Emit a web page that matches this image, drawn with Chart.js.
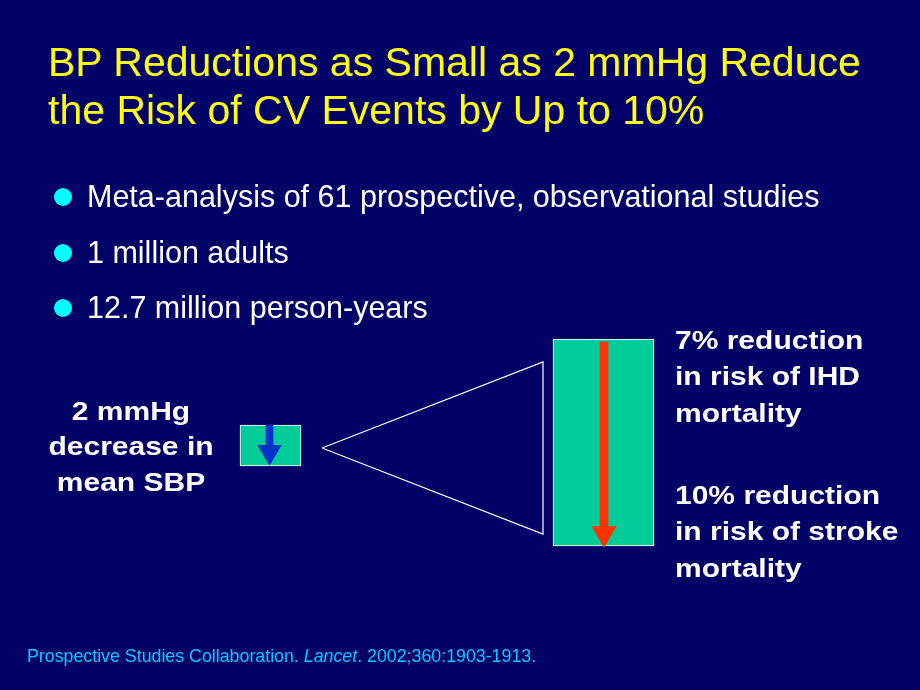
<!DOCTYPE html>
<html>
<head>
<meta charset="utf-8">
<script src="https://cdn.jsdelivr.net/npm/chart.js@4"></script>
<style>
  html, body { margin: 0; padding: 0; }
  body { width: 920px; height: 690px; background: #000066; position: relative; overflow: hidden;
         font-family: "Liberation Sans", Arial, Helvetica, sans-serif; }
  #slide { position: absolute; left: 0; top: 0; }
  .t { position: absolute; white-space: nowrap; line-height: 1; }
  .dot { position: absolute; width: 18px; height: 18px; border-radius: 50%; background: #00FFFF; }
</style>
</head>
<body>
<canvas id="slide" width="920" height="690"></canvas>
<script>
// slide content
const titleLines = ['BP Reductions as Small as 2 mmHg Reduce', 'the Risk of CV Events by Up to 10%'];
const bullets = ['Meta-analysis of 61 prospective, observational studies', '1 million adults', '12.7 million person-years'];
const sbpDecrease = 2;            // mmHg
const outcomes = ['IHD', 'stroke'];
const riskReduction = [7, 10];    // %

// layout of the diagram (slide pixels)
const smallBox = { x: 270.5, top: 425, bottom: 466, width: 61 };
const bigBox = { x: 603.5, top: 339, bottom: 546, width: 101 };
const smallShaft = { x: 269.5, top: 425, bottom: 447, width: 7 };
const bigShaft = { x: 604, top: 342, bottom: 527, width: 8 };
const zoomLines = [{ x: 322, y: 448 }, { x: 543, y: 362 }, { x: 543, y: 534 }, { x: 322, y: 448 }];

const TEAL = '#00CC99';
const BLUE = '#0033CC';
const RED = '#FF3300';

// text helper: put a line so its baseline sits at y
function place(html, x, baseline, size, style) {
    const d = document.createElement('div');
    d.className = 't';
    d.innerHTML = html;
    d.style.fontSize = size + 'px';
    d.style.top = (baseline - 0.8465 * size) + 'px';
    if (style.center) {
        d.style.left = (x - 150) + 'px';
        d.style.width = '300px';
        d.style.textAlign = 'center';
    } else {
        d.style.left = x + 'px';
    }
    d.style.color = style.color || '#FFFFFF';
    if (style.bold) d.style.fontWeight = 'bold';
    if (style.squash) {
        d.style.transformOrigin = '50% ' + (0.8465 * size) + 'px';
        d.style.transform = 'scaleY(' + style.squash + ')';
    }
    document.body.appendChild(d);
}

titleLines.forEach((s, i) => place(s, 48, 77 + i * 48, 41, { color: '#FFFF00' }));

bullets.forEach((s, i) => {
    const base = 207 + i * 55.5;
    place(s, 87, base, 30.5, {});
    const dot = document.createElement('div');
    dot.className = 'dot';
    dot.style.left = '53.5px';
    dot.style.top = (base - 19) + 'px';
    document.body.appendChild(dot);
});

const lbl = { bold: true, squash: 0.88 };
[sbpDecrease + ' mmHg', 'decrease in', 'mean SBP'].forEach((s, i) =>
    place(s, 131, 420 + i * 35.5, 30, Object.assign({ center: true }, lbl)));

[[riskReduction[0] + '% reduction', 'in risk of ' + outcomes[0], 'mortality'],
 [riskReduction[1] + '% reduction', 'in risk of ' + outcomes[1], 'mortality']].forEach((lines, g) => {
    lines.forEach((s, i) => place(s, 675, 349 + g * 155 + i * 36.5, 30, lbl));
});

place('Prospective Studies Collaboration. <i>Lancet</i>. 2002;360:1903-1913.', 27, 663, 17.8, { color: '#00CCFF' });

// diagram drawn by Chart.js on a full-slide pixel grid
const ctx = document.getElementById('slide').getContext('2d');
new Chart(ctx, {
    type: 'bar',
    data: {
        datasets: [
            {
                label: 'zoom',
                type: 'scatter',
                data: zoomLines,
                showLine: true,
                borderColor: '#FFFFFF',
                borderWidth: 1.2,
                pointRadius: 0,
                order: 5
            },
            {
                label: 'SBP box',
                data: [{ x: smallBox.x, y: [smallBox.top, smallBox.bottom] }],
                barThickness: smallBox.width,
                backgroundColor: TEAL,
                borderColor: '#FFFFFF',
                borderWidth: 1,
                borderSkipped: false,
                grouped: false,
                order: 4
            },
            {
                label: 'risk box',
                data: [{ x: bigBox.x, y: [bigBox.top, bigBox.bottom] }],
                barThickness: bigBox.width,
                backgroundColor: TEAL,
                borderColor: '#FFFFFF',
                borderWidth: 1,
                borderSkipped: false,
                grouped: false,
                order: 4
            },
            {
                label: 'SBP arrow',
                data: [{ x: smallShaft.x, y: [smallShaft.top, smallShaft.bottom] }],
                barThickness: smallShaft.width,
                backgroundColor: BLUE,
                borderWidth: 0,
                grouped: false,
                order: 3
            },
            {
                label: 'risk arrow',
                data: [{ x: bigShaft.x, y: [bigShaft.top, bigShaft.bottom] }],
                barThickness: bigShaft.width,
                backgroundColor: RED,
                borderWidth: 0,
                grouped: false,
                order: 3
            },
            {
                label: 'SBP head',
                type: 'scatter',
                data: [{ x: smallShaft.x, y: smallBox.bottom - 14 }],
                pointStyle: 'triangle',
                rotation: 180,
                pointRadius: 14,
                backgroundColor: BLUE,
                borderWidth: 0,
                order: 1
            },
            {
                label: 'risk head',
                type: 'scatter',
                data: [{ x: bigShaft.x, y: bigBox.bottom + 2 - 14.5 }],
                pointStyle: 'triangle',
                rotation: 180,
                pointRadius: 14.5,
                backgroundColor: RED,
                borderWidth: 0,
                order: 1
            }
        ]
    },
    options: {
        responsive: false,
        animation: false,
        layout: { padding: 0, autoPadding: false },
        plugins: { legend: { display: false }, tooltip: { enabled: false } },
        scales: {
            x: { type: 'linear', min: 0, max: 920, offset: false, display: false },
            y: { type: 'linear', min: 0, max: 690, reverse: true, display: false }
        }
    }
});
</script>
</body>
</html>
